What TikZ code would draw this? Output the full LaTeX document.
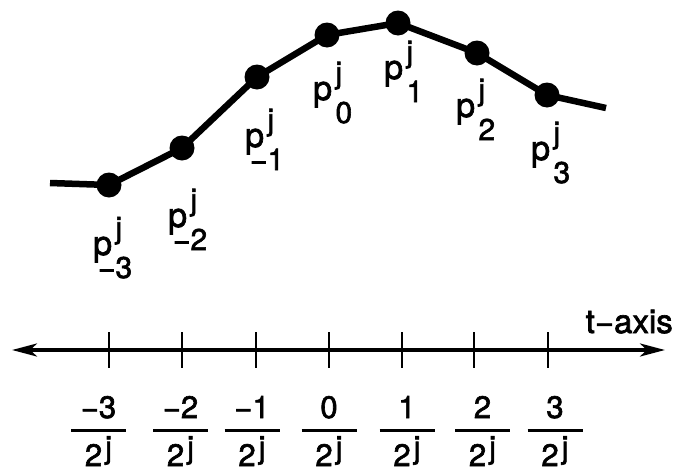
\documentclass[tikz,border=0pt]{standalone}
\usepackage{fontspec}
\setmainfont{TeX Gyre Heros}[FakeBold=2]
\usetikzlibrary{arrows.meta}
\tikzset{
  curve/.style={line width=6.5pt, line join=round},
  dot/.style={circle, fill=black, minimum size=25pt, inner sep=0pt},
  plet/.style={inner sep=0pt, font=\fontsize{34}{36}\selectfont},
  idx/.style={inner sep=0pt, font=\fontsize{30}{32}\selectfont},
  frac/.style={inner sep=0pt, font=\fontsize{31}{33}\selectfont},
  axlab/.style={inner sep=0pt, font=\fontsize{33}{35}\selectfont},
  axisline/.style={line width=3.8pt, {Stealth[length=25pt,width=13pt,inset=7pt]}-{Stealth[length=25pt,width=13pt,inset=7pt]}},
  tick/.style={line width=2pt},
  fracbar/.style={line width=3.8pt},
}
\newcommand\plab[4]{%
  \node[plet, anchor=base west] (#1) at (#2,#3) {p};
  \node[idx, anchor=base west] (#1j) at ([xshift=3pt,yshift=17pt]#1.base east) {j};
  \node[idx, anchor=base west] (#1s) at ([xshift=3pt,yshift=-23pt]#1.base east) {#4};
}
\newcommand\tfrac[3]{%
  \node[frac, anchor=base] (#1n) at (#2,418) {#3};
  \node[frac, anchor=base] (#1d) at (#2,466) {2\kern3pt\raisebox{8pt}{j}};
  \coordinate (#1a) at (#2-27.5,430.5);
  \coordinate (#1b) at (#2+27.5,430.5);
  \draw[fracbar] (#1a) -- (#1b);
}
\begin{document}
\begin{tikzpicture}[x=1pt,y=-1pt]
\useasboundingbox (0,0) rectangle (675,469);
% control points
\node[dot] (d-3) at (109,185) {};
\node[dot] (d-2) at (182,148) {};
\node[dot] (d-1) at (257,77) {};
\node[dot] (d0) at (327,35) {};
\node[dot] (d1) at (398,23) {};
\node[dot] (d2) at (477,53) {};
\node[dot] (d3) at (547,95) {};
\coordinate (cs) at (50,183);
\coordinate (ce) at (606,108);
\draw[curve] (cs) -- (d-3.center) -- (d-2.center) -- (d-1.center) -- (d0.center) -- (d1.center) -- (d2.center) -- (d3.center) -- (ce);
% labels
\plab{l-3}{93}{255}{\llap{−}3}
\plab{l-2}{168}{227}{\llap{−}2}
\plab{l-1}{245}{147}{\llap{−}1}
\plab{l0}{313}{100}{0}
\plab{l1}{384}{79}{1}
\plab{l2}{456}{117}{2}
\plab{l3}{531}{160}{3}
% axis
\coordinate (al) at (12,350);
\coordinate (ar) at (665,350);
\draw[axisline] (al) -- (ar);
\node[axlab, anchor=base east] (tax) at (673,333) {t−axis};
\foreach \i/\x in {m3/109, m2/182, m1/256, z/329, p1/402, p2/474, p3/548}{
  \coordinate (t\i a) at (\x,332);
  \coordinate (t\i b) at (\x,368);
  \draw[tick] (t\i a) -- (t\i b);
}
% fractions
\tfrac{fm3}{98.5}{−3}
\tfrac{fm2}{180.5}{−2}
\tfrac{fm1}{252}{−1}
\tfrac{fz}{329}{0}
\tfrac{fp1}{407}{1}
\tfrac{fp2}{482.5}{2}
\tfrac{fp3}{555}{3}
\end{tikzpicture}
\end{document}
